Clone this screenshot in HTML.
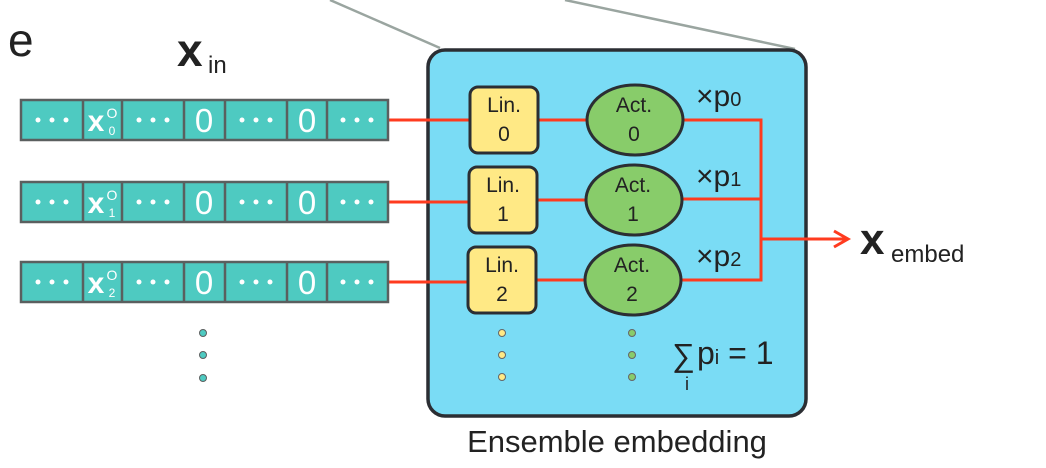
<!DOCTYPE html>
<html><head><meta charset="utf-8"><style>body{margin:0;background:#fff}svg{display:block}</style></head><body>
<svg width="1046" height="468" viewBox="0 0 1046 468" xmlns="http://www.w3.org/2000/svg" font-family="Liberation Sans, sans-serif">
<line x1="330" y1="0" x2="440" y2="48" stroke="#9aa5a0" stroke-width="2.5"/>
<line x1="565" y1="0" x2="795" y2="49" stroke="#9aa5a0" stroke-width="2.5"/>
<text x="8" y="56" font-size="46" fill="#222">e</text>
<text x="177" y="66" font-size="46" font-weight="bold" fill="#222">x</text>
<text x="208" y="73" font-size="24" fill="#222">in</text>
<rect x="428" y="50" width="378" height="366" rx="17" fill="#7adcf5" stroke="#2b2e33" stroke-width="3.5"/>
<g stroke="#ff3b1f" stroke-width="3" fill="none">
<line x1="388" y1="120" x2="470" y2="120"/><line x1="388" y1="202" x2="470" y2="202"/><line x1="388" y1="282" x2="470" y2="282"/>
<line x1="538" y1="120" x2="588" y2="120"/><line x1="538" y1="200" x2="586" y2="200"/><line x1="537" y1="280" x2="586" y2="280"/>
<polyline points="682,120 761,120 761,280 682,280"/><line x1="682" y1="199" x2="761" y2="199"/>
<line x1="761" y1="239" x2="848" y2="239"/><polyline points="834,231 848,239 834,247"/>
</g>
<g font-size="24" fill="#fff" text-anchor="middle">
<g id="row">
<rect x="21" y="100" width="367" height="40" fill="#4ecac1" stroke="#5a5f5f" stroke-width="2.5"/>
<g stroke="#5a5f5f" stroke-width="2.5"><line x1="83" y1="100" x2="83" y2="140"/><line x1="122" y1="100" x2="122" y2="140"/><line x1="184" y1="100" x2="184" y2="140"/><line x1="225" y1="100" x2="225" y2="140"/><line x1="287" y1="100" x2="287" y2="140"/><line x1="327" y1="100" x2="327" y2="140"/></g>
<g fill="#fff">
<circle cx="38" cy="120" r="2.5"/><circle cx="52" cy="120" r="2.5"/><circle cx="66" cy="120" r="2.5"/>
<circle cx="139" cy="120" r="2.5"/><circle cx="153" cy="120" r="2.5"/><circle cx="167" cy="120" r="2.5"/>
<circle cx="242" cy="120" r="2.5"/><circle cx="256" cy="120" r="2.5"/><circle cx="270" cy="120" r="2.5"/>
<circle cx="343" cy="120" r="2.5"/><circle cx="357" cy="120" r="2.5"/><circle cx="371" cy="120" r="2.5"/>
</g>
<text x="204" y="132" font-size="33">0</text><text x="307" y="132" font-size="33">0</text>
<text x="96" y="131" font-size="30" font-weight="bold">x</text><text x="112" y="118" font-size="14">O</text>
</g>
<use href="#row" y="82"/><use href="#row" y="162"/>
<text x="112" y="135" font-size="12">0</text><text x="112" y="217" font-size="12">1</text><text x="112" y="297" font-size="12">2</text>
</g>
<g fill="#4ecac1" stroke="#5a5f5f" stroke-width="1"><circle cx="203" cy="333" r="3.5"/><circle cx="203" cy="355" r="3.5"/><circle cx="203" cy="378" r="3.5"/></g>
<g fill="#ffe985" stroke="#2b2e33" stroke-width="3">
<rect x="470" y="87" width="68" height="66" rx="8"/><rect x="469" y="167" width="68" height="66" rx="8"/><rect x="468" y="247" width="68" height="66" rx="8"/>
</g>
<g fill="#88cc6a" stroke="#2b2e33" stroke-width="3">
<ellipse cx="635" cy="120" rx="48" ry="35"/><ellipse cx="634" cy="200" rx="48" ry="35"/><ellipse cx="633" cy="280" rx="48" ry="35"/>
</g>
<g font-size="21" fill="#222" text-anchor="middle">
<text x="504" y="112">Lin.</text><text x="504" y="141">0</text>
<text x="503" y="192">Lin.</text><text x="503" y="221">1</text>
<text x="502" y="272">Lin.</text><text x="502" y="301">2</text>
<text x="634" y="112">Act.</text><text x="634" y="141">0</text>
<text x="633" y="192">Act.</text><text x="633" y="221">1</text>
<text x="632" y="272">Act.</text><text x="632" y="301">2</text>
</g>
<g fill="#ffe985" stroke="#666" stroke-width="1"><circle cx="502" cy="333" r="3.5"/><circle cx="502" cy="355" r="3.5"/><circle cx="502" cy="377" r="3.5"/></g>
<g fill="#88cc6a" stroke="#666" stroke-width="1"><circle cx="632" cy="333" r="3.5"/><circle cx="632" cy="355" r="3.5"/><circle cx="632" cy="377" r="3.5"/></g>
<g fill="#222">
<text x="696" y="106" font-size="30">×p<tspan font-size="20">0</tspan></text>
<text x="696" y="186" font-size="30">×p<tspan font-size="20">1</tspan></text>
<text x="696" y="266" font-size="30">×p<tspan font-size="20">2</tspan></text>
<text x="672" y="366" font-size="32">∑</text>
<text x="685" y="390" font-size="18">i</text>
<text x="697" y="364" font-size="32">p<tspan font-size="20">i</tspan> = 1</text>
<text x="860" y="254" font-size="44" font-weight="bold">x</text>
<text x="891" y="262" font-size="24">embed</text>
<text x="617" y="452" font-size="31" text-anchor="middle">Ensemble embedding</text>
</g>
</svg>
</body></html>
